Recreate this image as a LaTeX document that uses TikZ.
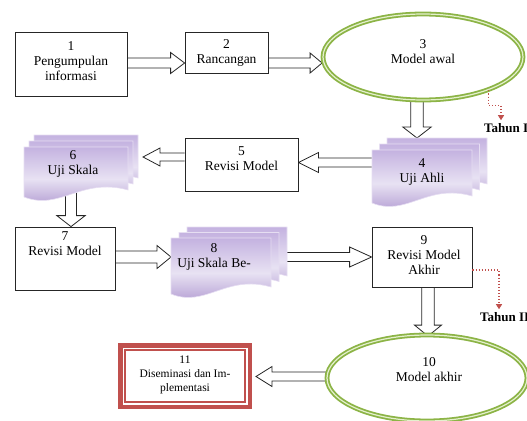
\documentclass[tikz,border=0pt]{standalone}
\usepackage{fontspec}
\setmainfont{Liberation Serif}
\usetikzlibrary{calc,shapes.geometric,arrows.meta,backgrounds}
\definecolor{docA}{RGB}{196,178,224}
\definecolor{docC}{RGB}{232,226,243}
\definecolor{docB}{RGB}{170,145,205}
\definecolor{docedge}{RGB}{230,222,242}
\definecolor{egreen}{RGB}{140,180,70}
\definecolor{elight}{RGB}{228,240,205}
\definecolor{redd}{RGB}{192,80,77}
\tikzset{
  box/.style={draw=black!85, line width=0.8pt, fill=white, inner sep=0pt},
  lbl/.style={font=\fontsize{13.5}{15}\selectfont, align=center, inner sep=0pt},
  smalllbl/.style={font=\fontsize{11.5}{14}\selectfont, align=center, inner sep=0pt},
  tahun/.style={font=\fontsize{13}{15}\selectfont\bfseries, inner sep=0pt, anchor=west},
  modelell/.style={ellipse, draw=egreen, line width=1.8pt, double=elight, double distance=1.2pt, fill=white, inner sep=0pt, minimum width=200, minimum height=86},
  docbox/.style={inner sep=0pt, outer sep=0pt},
  docfill/.style={draw=docedge, line width=0.6pt, top color=docA, bottom color=docB, middle color=docC},
  hollow/.style={draw=black!85, line width=0.8pt, line join=miter, fill=white},
  reddot/.style={draw=redd, dotted, line width=1.1pt, -{Triangle[length=5pt,width=6pt]}},
  redbox/.style={draw=redd, line width=4.5pt, fill=white, inner sep=0pt}
}
\newcommand\hollowarrow[5]{%
  \path (#1) coordinate (ha-s) (#2) coordinate (ha-e);
  \path ($(ha-e)!#5pt!(ha-s)$) coordinate (ha-b);
  \draw[hollow] ($(ha-s)!#3pt!90:(ha-e)$) -- ($(ha-b)!#3pt!-90:(ha-s)$) -- ($(ha-b)!#4pt!-90:(ha-s)$) -- (ha-e) -- ($(ha-b)!#4pt!90:(ha-s)$) -- ($(ha-b)!#3pt!90:(ha-s)$) -- ($(ha-s)!#3pt!-90:(ha-e)$);}
\newcommand\docpage[3]{%
  \path[docfill] let \p1=(#1.north west), \p2=(#1.south east), \n1={\x2-\x1} in
   (\x1+#2pt,\y1+#3pt) -- (\x2+#2pt,\y1+#3pt) -- (\x2+#2pt,\y2+9pt+#3pt)
   .. controls (\x1+0.55*\n1+#2pt,\y2+22pt+#3pt) and (\x1+0.35*\n1+#2pt,\y2-12pt+#3pt) .. (\x1+#2pt,\y2+2pt+#3pt) -- cycle;}
\newcommand\docstack[3]{\docpage{#1}{2*#2}{2*#3}\docpage{#1}{#2}{#3}\docpage{#1}{0}{0}}
\begin{document}
\begin{tikzpicture}[x=1pt,y=-1pt]
\useasboundingbox (0,0) rectangle (527,420);
% nodes
\node[box, minimum width=112, minimum height=64] (b1) at (71,64) {};
\node[lbl] (t1) at (71,61) {1\\Pengumpulan\\informasi};
\node[box, minimum width=83, minimum height=41] (b2) at (226.5,52.5) {};
\node[lbl] (t2) at (226.5,52.5) {2\\Rancangan};
\node[modelell] (e3) at (423,57) {};
\node[lbl] (t3) at (423,52) {3\\Model awal};
\node[docbox, minimum width=100, minimum height=55] (b4) at (422,177.5) {};
\docstack{b4}{7.5}{6}
\node[lbl] (t4) at (422,172) {4\\Uji Ahli};
\node[box, minimum width=113, minimum height=53] (b5) at (241.5,164.5) {};
\node[lbl] (t5) at (241.5,158.5) {5\\Revisi Model};
\node[docbox, minimum width=104, minimum height=52] (b6) at (76,173) {};
\docstack{b6}{5}{6}
\node[lbl] (t6) at (73,164) {6\\Uji Skala};
\node[box, minimum width=100, minimum height=63] (b7) at (65,258.5) {};
\node[lbl] (t7) at (65,244) {7\\Revisi Model};
\node[docbox, minimum width=100, minimum height=58] (b8) at (221,267) {};
\docstack{b8}{8}{5.5}
\node[lbl] (t8) at (214,257) {8\\Uji Skala Be-};
\node[box, minimum width=100, minimum height=60] (b9) at (422,257) {};
\node[lbl] (t9) at (424,255) {9\\Revisi Model\\Akhir};
\node[modelell] (e10) at (427,378) {};
\node[lbl] (t10) at (429,370) {10\\Model akhir};
\node[redbox, minimum width=129.5, minimum height=61.5] (b11) at (185,376) {};
\draw[redd, line width=1.2pt] ($(b11.north west)+(7,7)$) rectangle ($(b11.south east)+(-7,-7)$);
\node[smalllbl] (t11) at (185,375) {11\\Diseminasi dan Im-\\plementasi};
\node[tahun] (ty1) at (484,128) {Tahun I};
\node[tahun] (ty2) at (480,317) {Tahun II};
% red dotted
\draw[reddot] (e3.-27) -- ++(0,15) -| ($(ty1.north west)+(17,-3)$);
\draw[reddot] (b9.east |- 0,270) -| ($(ty2.north west)+(19,-3)$);
% hollow arrows
\begin{scope}[on background layer]
\hollowarrow{b1.east |- 0,63}{b2.west |- 0,63}{5}{10.5}{14}
\hollowarrow{b2.east |- 0,63}{e3.west |- 0,63}{5}{10}{12}
\hollowarrow{$(e3.south)+(-6,-4)$}{$(b4.north)+(-5,-12)$}{6.3}{14.2}{11}
\hollowarrow{b4.west |- 0,162.5}{b5.east |- 0,162.5}{4.5}{10}{20}
\hollowarrow{b5.west |- 0,157}{$(b6.east |- 0,157)+(15,0)$}{4}{9}{17}
\hollowarrow{$(b6.south)+(-5,-15)$}{$(b7.north)+(6,0)$}{5.5}{14.2}{11}
\hollowarrow{b7.east |- 0,257}{b8.west |- 0,257}{6}{11.5}{14}
\hollowarrow{$(b8.east |- 0,257)+(14,0)$}{b9.west |- 0,257}{4.5}{10}{22}
\hollowarrow{b9.south -| 428,0}{$(e10.north -| 428,0)+(0,2)$}{6.3}{13.5}{11}
\hollowarrow{e10.west |- 0,376.5}{$(b11.east |- 0,376.5)+(4,0)$}{4.5}{10}{16}
\end{scope}
\end{tikzpicture}
\end{document}
